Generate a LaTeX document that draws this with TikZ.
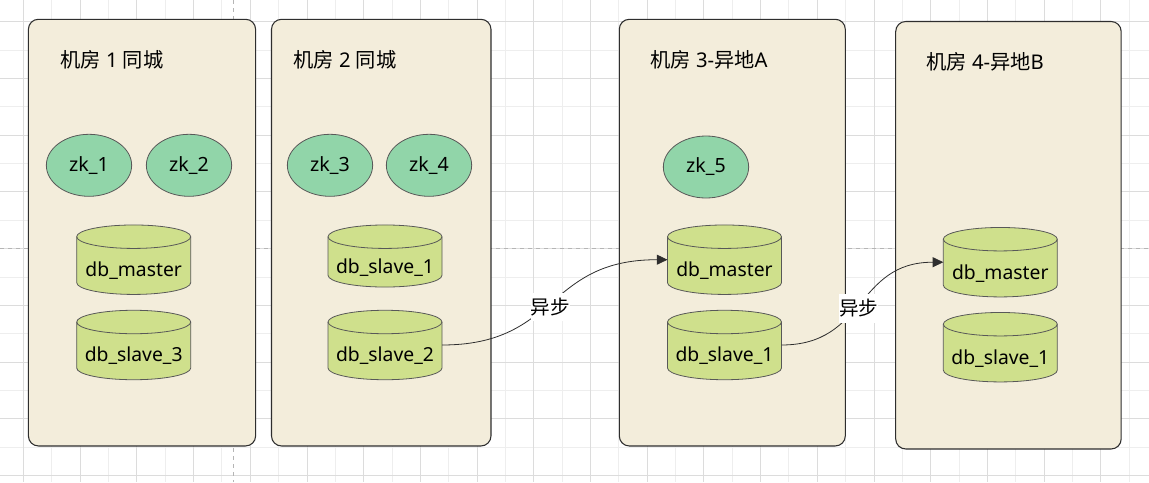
\documentclass[tikz,border=0pt]{standalone}
\usepackage{fontspec}
\setmainfont{Noto Sans}
\newfontfamily\cjk{Noto Sans CJK SC}
\usetikzlibrary{shapes.geometric,arrows.meta}
\definecolor{room}{HTML}{F3EDDB}
\definecolor{zkfill}{HTML}{91D5A9}
\definecolor{dbfill}{HTML}{CFE08C}
\definecolor{ink}{HTML}{2E2E2E}
\definecolor{gridminor}{HTML}{EEEEEE}
\definecolor{gridmajor}{HTML}{DCDCDC}
\definecolor{guide}{HTML}{B5B5B5}
\tikzset{
  roombox/.style={draw=ink,line width=0.8pt,fill=room,rounded corners=7.5pt,anchor=north west,inner sep=0pt,outer sep=0pt},
  roomlabel/.style={anchor=west,inner sep=0pt,text=black,font=\fontsize{15.2}{16}\selectfont},
  zknode/.style={ellipse,draw=ink!80,line width=0.6pt,fill=zkfill,minimum width=64pt,minimum height=46.5pt,inner sep=0pt,outer sep=0pt,font=\fontsize{14.7}{16}\selectfont},
  dbline/.style={draw=ink!80,line width=0.6pt},
  dbnode/.style={rectangle,inner sep=0pt,outer sep=0pt,minimum width=85.5pt,text height=38.6pt,text depth=13.2pt,font=\fontsize{14.5}{16}\selectfont},
  dbshort/.style={text height=36.2pt,text depth=10.2pt},
  link/.style={draw=ink,line width=0.6pt,-{Triangle[length=8pt,width=7.5pt]}},
  linklabel/.style={fill=white,inner sep=0pt,minimum width=29.2pt,minimum height=21.5pt,font=\cjk\fontsize{14.7}{16}\selectfont}
}
% name, x, y, half height of the straight side, text, extra style
\newcommand{\dbcyl}[6][]{%
  \begin{scope}[shift={(#3,#4)}]
    \draw[dbline,fill=dbfill] (-57,-#5) arc[start angle=180,end angle=0,x radius=42.75pt,y radius=8.8pt]
      -- (57,#5) arc[start angle=0,end angle=-180,x radius=42.75pt,y radius=8.8pt] -- cycle;
    \draw[dbline] (-57,-#5) arc[start angle=180,end angle=360,x radius=42.75pt,y radius=8.8pt];
    \node[dbnode,#1] (#2) at (0,0) {#6};
  \end{scope}}
\begin{document}
\begin{tikzpicture}[x=0.75pt,y=-0.75pt]
\useasboundingbox (0,0) rectangle (1149,482);
\fill[white] (0,0) rectangle (1149,482);
% grid
\foreach \k in {0,...,40}{
  \pgfmathsetmacro\gx{23.5+28.35*\k}
  \pgfmathtruncatemacro\odd{mod(\k,2)}
  \ifnum\odd=1
    \draw[gridminor,line width=0.75pt] (\gx,0) -- (\gx,482);
  \fi
}
\foreach \k in {0,...,16}{
  \pgfmathsetmacro\gy{21.7+28.37*\k}
  \pgfmathtruncatemacro\odd{mod(\k,2)}
  \ifnum\odd=1
    \draw[gridminor,line width=0.75pt] (0,\gy) -- (1149,\gy);
  \fi
}
\foreach \k in {0,...,40}{
  \pgfmathsetmacro\gx{23.5+28.35*\k}
  \pgfmathtruncatemacro\odd{mod(\k,2)}
  \ifnum\odd=0
    \draw[gridmajor,line width=0.75pt] (\gx,0) -- (\gx,482);
  \fi
}
\foreach \k in {0,...,16}{
  \pgfmathsetmacro\gy{21.7+28.37*\k}
  \pgfmathtruncatemacro\odd{mod(\k,2)}
  \ifnum\odd=0
    \draw[gridmajor,line width=0.75pt] (0,\gy) -- (1149,\gy);
  \fi
}
\draw[guide,dashed,line width=0.75pt] (233.5,0) -- (233.5,482);
\draw[guide,dashed,line width=0.75pt] (0,248.3) -- (1149,248.3);
% rooms
\node[roombox,minimum width=170.4pt,minimum height=320pt] (r1) at (28.4,19.3) {};
\node[roombox,minimum width=164.6pt,minimum height=320pt] (r2) at (271.5,19.3) {};
\node[roombox,minimum width=169.5pt,minimum height=320pt] (r3) at (619.3,19.3) {};
\node[roombox,minimum width=169.1pt,minimum height=320.6pt] (r4) at (895.7,21.5) {};
\node[roomlabel] (t1) at (60,59.5) {{\cjk 机房} 1 {\cjk 同城}};
\node[roomlabel] (t2) at (293,59.5) {{\cjk 机房} 2 {\cjk 同城}};
\node[roomlabel] (t3) at (650,59.5) {{\cjk 机房} 3-{\cjk 异地}A};
\node[roomlabel] (t4) at (926,61.5) {{\cjk 机房} 4-{\cjk 异地}B};
% zk
\node[zknode] (zk1) at (89,165.3) {zk\_1};
\node[zknode] (zk2) at (189,165.3) {zk\_2};
\node[zknode] (zk3) at (330,165.3) {zk\_3};
\node[zknode] (zk4) at (429,165.3) {zk\_4};
\node[zknode] (zk5) at (706,167) {zk\_5};
% db
\dbcyl{m1}{133.7}{259.7}{23}{db\_master}
\dbcyl{s3}{133.7}{345}{23}{db\_slave\_3}
\dbcyl[dbshort]{s1}{385}{256}{19.3}{db\_slave\_1}
\dbcyl{s2}{385}{345}{23}{db\_slave\_2}
\dbcyl{m3}{724.5}{259.7}{23}{db\_master}
\dbcyl{s31}{724.5}{345}{23}{db\_slave\_1}
\dbcyl{m4}{1000.3}{262.2}{23}{db\_master}
\dbcyl{s41}{1000.3}{347.2}{23}{db\_slave\_1}
% links
\draw[link] (s2.east) .. controls +(117,0) and +(-122,0) .. node[linklabel,pos=0.5,xshift=-2pt,yshift=-3.5pt] (a1) {异步} (m3.west);
\draw[link] (s31.east) .. controls +(85,0) and +(-88,0) .. node[linklabel,pos=0.5,xshift=-2pt,yshift=-3.5pt] (a2) {异步} (m4.west);
\end{tikzpicture}
\end{document}
